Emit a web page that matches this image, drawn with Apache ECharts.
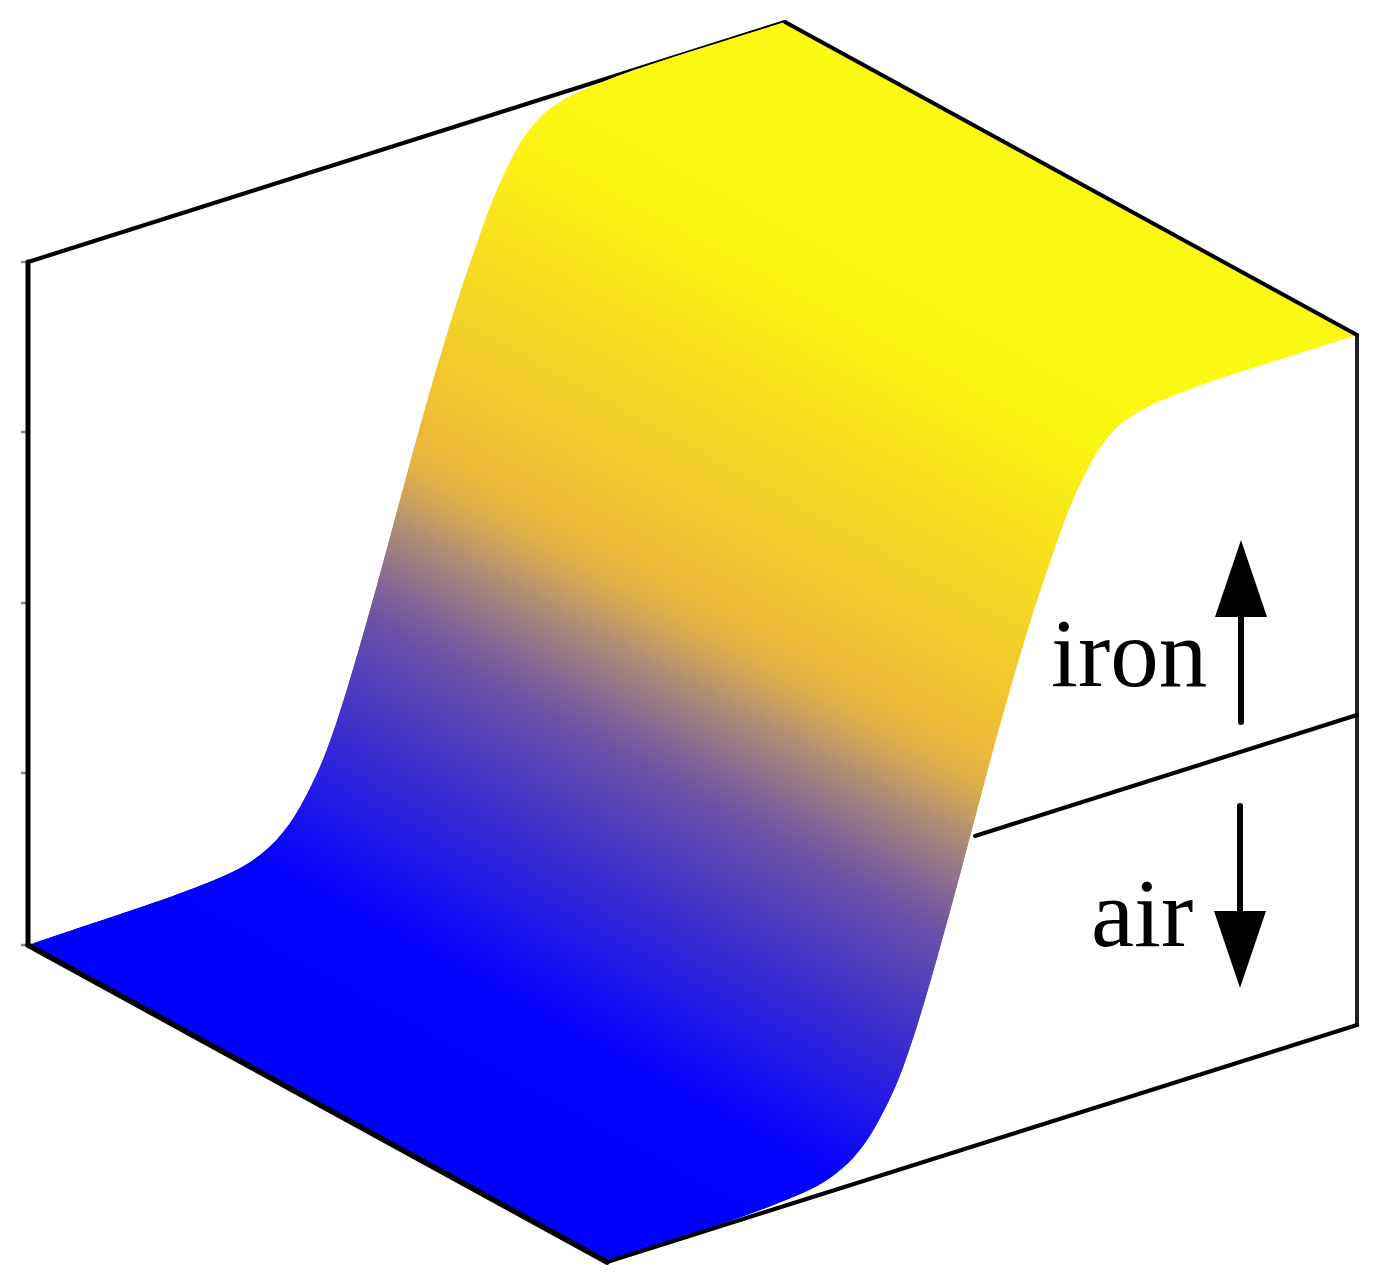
<!DOCTYPE html>
<html><head><meta charset="utf-8">
<style>html,body{margin:0;padding:0;background:#fff}#c{width:1380px;height:1287px}</style>
<script src="https://cdn.jsdelivr.net/npm/echarts@6/dist/echarts.min.js"></script>
</head><body><div id="c"></div>
<script>
// Profile of the surface: position across the interface (0..1) and height (0..1)
const depth  = [0,.05,.10,.15,.20,.24,.27,.29,.31,.33,.35,.37,.39,.41,.43,.45,.47,.49,.51,.53,.55,.57,.59,.61,.63,.65,.67,.69,.72,.76,.82,1];
const height = [0,.001,.002,.003,.005,.008,.012,.017,.026,.040,.062,.094,.135,.190,.255,.325,.398,.473,.548,.620,.688,.752,.810,.865,.910,.945,.968,.982,.992,.997,1,1];
// Colour as a function of height
const colorLevels = [0,.02,.06,.12,.21,.32,.38,.44,.48,.52,.56,.61,.68,.85,.95,1];
const colorValues = ['#0000ff','#0502fc','#150ff0','#2a20e0','#4636c4','#6a50a8','#8a6c90','#a88a78','#c8a060','#e0b048','#eeb83a','#f0c030','#f2cc2c','#f8e41c','#f9f412','#f9f912'];
// Box corners in the picture: floor and top
const floorA = [28,945], floorD = [785,705], floorB = [607,1262], floorC = [1357,1025];
const riseBack = 683, riseFront = 690;
// Box edges
const backEdges  = [[[28,262],[785,22]], [[28,262],[28,945]], [[1357,335],[1357,1025]], [[975,836],[1357,715]]];
const frontEdges = [[[785,22],[1357,335]], [[28,945],[607,1262]], [[607,1262],[1357,1025]]];
const wallTicks = [262,432,603,773,945];
const labels = [{text:'iron',x:1051,y:612},{text:'air',x:1091,y:872}];
const arrows = [{x:1241,from:722,base:617,tip:540,half:26},{x:1240,from:806,base:911,tip:988,half:26}];

function lerp(a,b,k){return a+(b-a)*k}
function project(t,s,z){
  const bx=lerp(lerp(floorA[0],floorD[0],t),lerp(floorB[0],floorC[0],t),s);
  const by=lerp(lerp(floorA[1],floorD[1],t),lerp(floorB[1],floorC[1],t),s);
  return [bx,by-z*lerp(riseBack,riseFront,s)];
}
function hexRgb(h){return [1,3,5].map(i=>parseInt(h.substr(i,2),16))}
function colorAt(z){
  let i=0; while(i<colorLevels.length-2 && z>colorLevels[i+1]) i++;
  const k=Math.min(1,Math.max(0,(z-colorLevels[i])/(colorLevels[i+1]-colorLevels[i])));
  const a=hexRgb(colorValues[i]),b=hexRgb(colorValues[i+1]);
  return 'rgb('+a.map((v,n)=>Math.round(lerp(v,b[n],k))).join(',')+')';
}
// Curve smoothing between read points (drawing only, like a smooth line)
function slopeAt(i){
  if(i<=0) return (height[1]-height[0])/(depth[1]-depth[0]);
  if(i>=depth.length-1) return 0;
  return (height[i+1]-height[i-1])/(depth[i+1]-depth[i-1]);
}
function curve(i,k){
  const h=depth[i+1]-depth[i],k2=k*k,k3=k2*k;
  return (2*k3-3*k2+1)*height[i]+(k3-2*k2+k)*h*slopeAt(i)+(-2*k3+3*k2)*height[i+1]+(k3-k2)*h*slopeAt(i+1);
}
const chart=echarts.init(document.getElementById('c'),null,{renderer:'canvas'});

function lineItem(seg,api,w,color,cap){
  const p=api.coord(seg[0]),q=api.coord(seg[1]);
  return {type:'line',shape:{x1:p[0],y1:p[1],x2:q[0],y2:q[1]},style:{stroke:color,lineWidth:w,lineCap:cap||'round'}};
}
const stripData=depth.slice(0,-1).map((t,i)=>[t,height[i]]);
const SUB=6;
function subPoint(i,n){ // n-th subdivision of strip i, may run into the next strip
  if(n>=SUB && i+1<depth.length-1){i+=1;n-=SUB}
  const k=Math.min(1,n/SUB);
  return {t:lerp(depth[i],depth[i+1],k),z:curve(i,k)};
}

chart.setOption({
  animation:false,
  grid:{left:0,right:0,top:0,bottom:0},
  xAxis:{type:'value',min:0,max:1380,show:false},
  yAxis:{type:'value',min:0,max:1287,inverse:true,show:false},
  tooltip:{show:false},
  series:[
    {type:'custom',silent:true,z:1,clip:false,data:wallTicks.map(y=>[28,y]),encode:{x:0,y:1},
     renderItem:(p,api)=>lineItem([[21,api.value(1)],[28,api.value(1)]],api,2.5,'#8a8a8a','butt')},
    {type:'custom',silent:true,z:2,clip:false,data:backEdges.map((e,i)=>[i,0]),
     renderItem:(p,api)=>{const i=api.value(0);return lineItem(backEdges[i],api,i===1?5:4,i===2?'#222':'#000')}},
    {type:'custom',silent:true,z:3,clip:false,data:stripData,
     renderItem:(p,api)=>{
       const i=p.dataIndex,children=[];
       for(let n=0;n<SUB;n++){
         // each piece runs on under the following one, so no seams show
         const P0=subPoint(i,n),P1=subPoint(i,n+1),P2=subPoint(i,n+2);
         const a=api.coord(project(P0.t,0,P0.z)),b=api.coord(project(P0.t,1,P0.z)),
               c=api.coord(project(P1.t,1,P1.z)),d=api.coord(project(P1.t,0,P1.z)),
               c2=api.coord(project(P2.t,1,P2.z)),d2=api.coord(project(P2.t,0,P2.z));
         let nx=-(b[1]-a[1]),ny=b[0]-a[0];const l=Math.hypot(nx,ny);nx/=l;ny/=l;
         const m=(d[0]-a[0])*nx+(d[1]-a[1])*ny;
         const g=new echarts.graphic.LinearGradient(a[0],a[1],a[0]+nx*m,a[1]+ny*m,
           [{offset:0,color:colorAt(P0.z)},{offset:1,color:colorAt(P1.z)}],true);
         children.push({type:'polygon',shape:{points:[a,b,c,c2,d2,d]},style:{fill:g}});
       }
       return {type:'group',children};
     }},
    {type:'custom',silent:true,z:4,clip:false,data:frontEdges.map((e,i)=>[i,0]),
     renderItem:(p,api)=>{const i=api.value(0);return lineItem(frontEdges[i],api,i===1?5.5:4,'#000')}},
    {type:'custom',silent:true,z:5,clip:false,data:arrows.map((a,i)=>[a.x,a.tip]),
     renderItem:(p,api)=>{
       const a=arrows[p.dataIndex];
       const t=api.coord([a.x,a.tip]),l=api.coord([a.x-a.half,a.base]),r=api.coord([a.x+a.half,a.base]);
       return {type:'group',children:[
         lineItem([[a.x,a.from],[a.x,a.base]],api,6,'#000'),
         {type:'polygon',shape:{points:[t,l,r]},style:{fill:'#000'}}
       ]};
     }},
    {type:'custom',silent:true,z:6,clip:false,data:labels.map(l=>[l.x,l.y]),
     renderItem:(p,api)=>{
       const c=api.coord([api.value(0),api.value(1)]);
       return {type:'text',x:c[0],y:c[1],style:{text:labels[p.dataIndex].text,fill:'#000',
         font:'97px "Liberation Serif", serif',textAlign:'left',textVerticalAlign:'top'}};
     }}
  ]
});
</script></body></html>
